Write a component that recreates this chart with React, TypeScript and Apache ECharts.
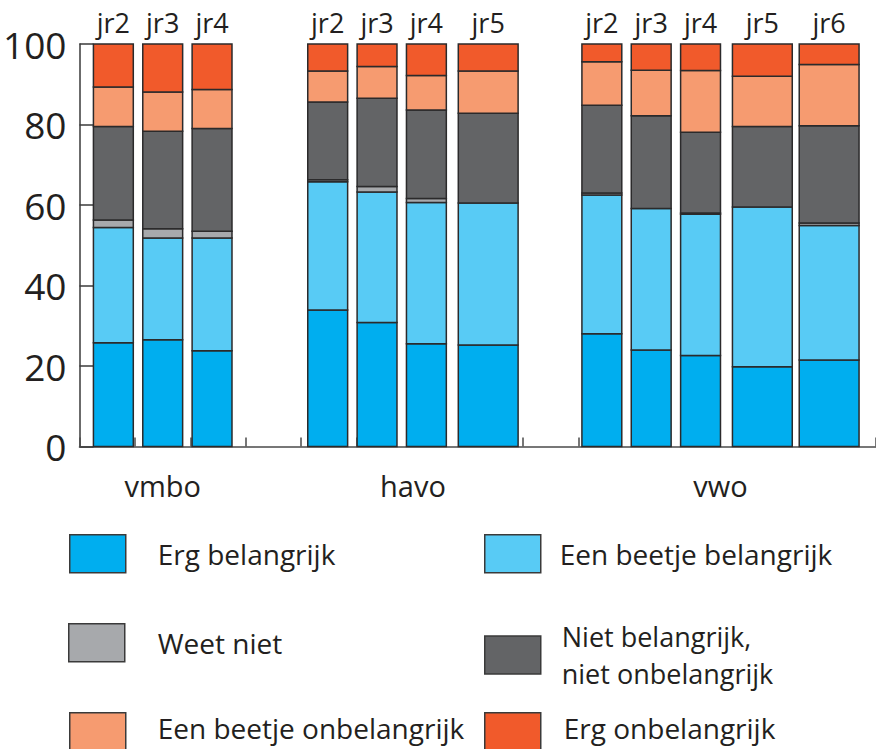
import React, { useEffect, useRef } from "react";
import * as echarts from "echarts";

// ---- data ----
const groups = ["vmbo", "havo", "vwo"];
const groupYears = [
  ["jr2", "jr3", "jr4"],
  ["jr2", "jr3", "jr4", "jr5"],
  ["jr2", "jr3", "jr4", "jr5", "jr6"],
];
const segmentNames = [
  "Erg belangrijk",
  "Een beetje belangrijk",
  "Weet niet",
  "Niet belangrijk, niet onbelangrijk",
  "Een beetje onbelangrijk",
  "Erg onbelangrijk",
];
// values per bar, order: vmbo jr2-4, havo jr2-5, vwo jr2-6
const ergBelangrijk = [25.8, 26.5, 23.8, 33.9, 30.8, 25.5, 25.2, 28.0, 24.0, 22.6, 19.8, 21.5];
const beetjeBelangrijk = [28.6, 25.3, 28.0, 31.9, 32.4, 35.1, 35.3, 34.5, 35.1, 35.1, 39.7, 33.4];
const weetNiet = [1.9, 2.3, 1.7, 0.5, 1.4, 1.0, 0, 0.5, 0, 0.3, 0, 0.6];
const nietNiet = [23.2, 24.2, 25.5, 19.3, 21.9, 22.0, 22.3, 21.8, 23.1, 20.1, 20.0, 24.2];
const beetjeOnbelangrijk = [9.8, 9.8, 9.7, 7.7, 7.9, 8.6, 10.5, 10.8, 11.3, 15.3, 12.5, 15.2];
const ergOnbelangrijk = [10.7, 11.9, 11.3, 6.7, 5.6, 7.8, 6.7, 4.4, 6.5, 6.6, 8.0, 5.1];
const yTicks = [0, 20, 40, 60, 80, 100];

const seriesValues = [ergBelangrijk, beetjeBelangrijk, weetNiet, nietNiet, beetjeOnbelangrijk, ergOnbelangrijk];
const colors = ["#00aeef", "#58cbf5", "#a7a9ac", "#636466", "#f69b70", "#f15a2b"];

// ---- layout (axis units along a hidden value x axis) ----
const groupStarts = [14, 229, 504];
const wideBars = [[], [3], [3, 4]];
const NARROW = 40;
const WIDE = 60;

type Bar = { x0: number; x1: number; label: string; group: number };
const bars: Bar[] = [];
groupYears.forEach((years, g) => {
  let x = groupStarts[g];
  let prevWide: boolean | null = null;
  years.forEach((label, i) => {
    const wide = wideBars[g].includes(i);
    if (prevWide !== null) {
      x += prevWide && wide ? 7 : !prevWide && wide ? 12 : 9.5;
    }
    const w = wide ? WIDE : NARROW;
    bars.push({ x0: x, x1: x + w, label, group: g });
    x += w;
    prevWide = wide;
  });
});

const FONT = "'Open Sans', 'Noto Sans', sans-serif";
const TEXT = "#231f20";
const STROKE = "#2b2a2b";

export default function App() {
  const ref = useRef<HTMLDivElement>(null);
  useEffect(() => {
    if (!ref.current) return;
    const chart = echarts.init(ref.current, undefined, { renderer: "svg" });

    const cum = bars.map(() => 0);
    const segSeries = seriesValues.map((vals, s) => {
      const data = vals.map((v, i) => {
        const b = cum[i];
        cum[i] += v;
        return [(bars[i].x0 + bars[i].x1) / 2, b, b + v, i];
      });
      return {
        type: "custom",
        name: segmentNames[s],
        itemStyle: { color: colors[s], borderColor: STROKE, borderWidth: 1.5 },
        encode: { x: 0, y: [1, 2] },
        data,
        renderItem: (params: any, api: any) => {
          const i = api.value(3);
          const lo = api.value(1);
          const hi = api.value(2);
          if (hi - lo <= 0) return null;
          const bar = bars[i];
          const p1 = api.coord([bar.x0, hi]);
          const p2 = api.coord([bar.x1, lo]);
          return {
            type: "rect",
            shape: { x: p1[0], y: p1[1], width: p2[0] - p1[0], height: p2[1] - p1[1] },
            style: { fill: colors[s], stroke: STROKE, lineWidth: 1.5 },
          };
        },
      };
    });

    const topLabels = {
      type: "custom",
      name: "years",
      silent: true,
      data: bars.map((b) => [(b.x0 + b.x1) / 2, 100]),
      encode: { x: 0, y: 1 },
      renderItem: (params: any, api: any) => {
        const p = api.coord([api.value(0), api.value(1)]);
        return {
          type: "text",
          style: {
            text: bars[params.dataIndex].label,
            x: p[0],
            y: p[1] - 22,
            align: "center",
            verticalAlign: "middle",
            fontSize: 27,
            fontFamily: FONT,
            fill: TEXT,
          },
        };
      },
    };

    const groupCenters = groups.map((_, g) => {
      const gb = bars.filter((b) => b.group === g);
      return (gb[0].x0 + gb[gb.length - 1].x1) / 2;
    });
    const groupLabels = {
      type: "custom",
      name: "groups",
      silent: true,
      data: groupCenters.map((c) => [c, 0]),
      encode: { x: 0, y: 1 },
      renderItem: (params: any, api: any) => {
        const p = api.coord([api.value(0), api.value(1)]);
        return {
          type: "text",
          style: {
            text: groups[params.dataIndex],
            x: p[0],
            y: p[1] + 39,
            align: "center",
            verticalAlign: "middle",
            fontSize: 29,
            fontFamily: FONT,
            fill: TEXT,
          },
        };
      },
    };

    const legendPos = [
      { left: 69, top: 534, pad: 27, lift: 0, fs: 28, lh: 30 },
      { left: 484, top: 534, pad: 14, lift: 0, fs: 28, lh: 30 },
      { left: 68, top: 623, pad: 28, lift: 0, fs: 28, lh: 30 },
      { left: 484, top: 623, pad: 16, lift: 0, fs: 27, lh: 37 },
      { left: 69, top: 712, pad: 27, lift: 8, fs: 28, lh: 30 },
      { left: 484, top: 712, pad: 18, lift: 8, fs: 28, lh: 30 },
    ];
    const legends = segmentNames.map((name, s) => ({
      data: [name],
      left: legendPos[s].left,
      top: legendPos[s].top,
      padding: 0,
      itemWidth: 56,
      itemHeight: 38,
      icon: "rect",
      itemStyle: { borderColor: "#3a3a3a", borderWidth: 1.5 },
      formatter: (n: string) =>
        n === "Niet belangrijk, niet onbelangrijk"
          ? "{t|Niet belangrijk,}\n{t|niet onbelangrijk}"
          : "{t|" + n + "}",
      textStyle: {
        fontSize: legendPos[s].fs,
        fontFamily: FONT,
        color: TEXT,
        padding: [0, 0, 0, legendPos[s].pad],
        rich: {
          t: {
            fontSize: legendPos[s].fs,
            fontFamily: FONT,
            color: TEXT,
            lineHeight: legendPos[s].lh,
            padding: [0, 0, legendPos[s].lift, 0],
          },
        },
      },
    }));

    chart.setOption({
      animation: false,
      backgroundColor: "#ffffff",
      grid: { left: 77, right: 0, top: 44, bottom: 302.5, containLabel: false },
      xAxis: {
        type: "value",
        min: 0,
        max: 799,
        interval: 55.6,
        axisLine: { show: true, lineStyle: { color: "#4a4a4a", width: 1.5 } },
        axisTick: { show: true, inside: true, length: 9, lineStyle: { color: "#4a4a4a", width: 1.5 } },
        axisLabel: { show: false },
        splitLine: { show: false },
      },
      yAxis: {
        type: "value",
        min: yTicks[0],
        max: yTicks[yTicks.length - 1],
        interval: 20,
        axisLine: { show: true, lineStyle: { color: "#3a3a3a", width: 1.5 } },
        axisTick: { show: true, inside: true, length: 14, lineStyle: { color: "#3a3a3a", width: 1.5 } },
        axisLabel: { fontSize: 37, fontFamily: FONT, color: TEXT, margin: 13 },
        splitLine: { show: false },
      },
      legend: legends,
      series: [...segSeries, topLabels, groupLabels],
    });
    return () => chart.dispose();
  }, []);
  return (
    <div
      ref={ref}
      style={{ position: "fixed", left: 0, top: 0, width: 876, height: 749, background: "#fff" }}
    />
  );
}
